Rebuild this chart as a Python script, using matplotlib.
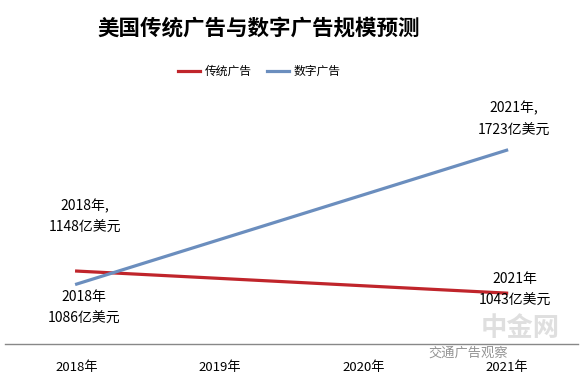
import matplotlib.pyplot as plt

plt.rcParams['font.family'] = ['Noto Sans CJK SC', 'DejaVu Sans']

years = ['2018年', '2019年', '2020年', '2021年']
traditional = [1148, 1113, 1078, 1043]
digital = [1086, 1298, 1511, 1723]
trad_labels = ['2018年,\n1148亿美元', '2021年\n1043亿美元']
digi_labels = ['2018年\n1086亿美元', '2021年,\n1723亿美元']

fig = plt.figure(figsize=(5.85, 3.85), dpi=100)
ax = fig.add_axes([0.0085, 0.106, 0.98, 0.655])

x = range(len(years))
ax.plot([x[0], x[-1]], [traditional[0], traditional[-1]], color='#C0252B', lw=2.3, label='传统广告')
ax.plot([x[0], x[-1]], [digital[0], digital[-1]], color='#6B8EBE', lw=2.3, label='数字广告')

ax.set_xlim(-0.5, 3.5)
ax.set_ylim(800, 2000)
ax.set_xticks(list(x))
ax.set_xticklabels(years, fontsize=9.5)
ax.tick_params(axis='x', length=0, pad=12)
ax.set_yticks([])
for s in ['top', 'right', 'left']:
    ax.spines[s].set_visible(False)
ax.spines['bottom'].set_color('#888888')
ax.spines['bottom'].set_linewidth(1)

# data labels
lab = dict(textcoords='offset points', ha='center', va='center', fontsize=10, linespacing=1.75)
ax.annotate(trad_labels[0], (0, traditional[0]), xytext=(6, 39), **lab)
ax.annotate(trad_labels[1], (3, traditional[-1]), xytext=(6, 2.5), **lab)
ax.annotate(digi_labels[0], (0, digital[0]), xytext=(5, -17), **lab)
ax.annotate(digi_labels[1], (3, digital[-1]), xytext=(5, 22), **lab)

fig.text(0.443, 0.927, '美国传统广告与数字广告规模预测', ha='center', va='center',
         fontsize=15.5, fontweight='black')
fig.legend(loc='center', bbox_to_anchor=(0.443, 0.815), ncol=2, frameon=False,
           fontsize=8.5, handlelength=1.9, columnspacing=1.3, handletextpad=0.35)

# watermark
fig.text(0.89, 0.148, '中金网', ha='center', va='center', fontsize=19, fontweight='bold',
         color='#D8D8D8', alpha=0.8, zorder=0)
fig.text(0.80, 0.082, '交通广告观察', ha='center', va='center', fontsize=9.5,
         color='#666666', alpha=0.7, zorder=0)

fig.savefig('out.png', dpi=100)
